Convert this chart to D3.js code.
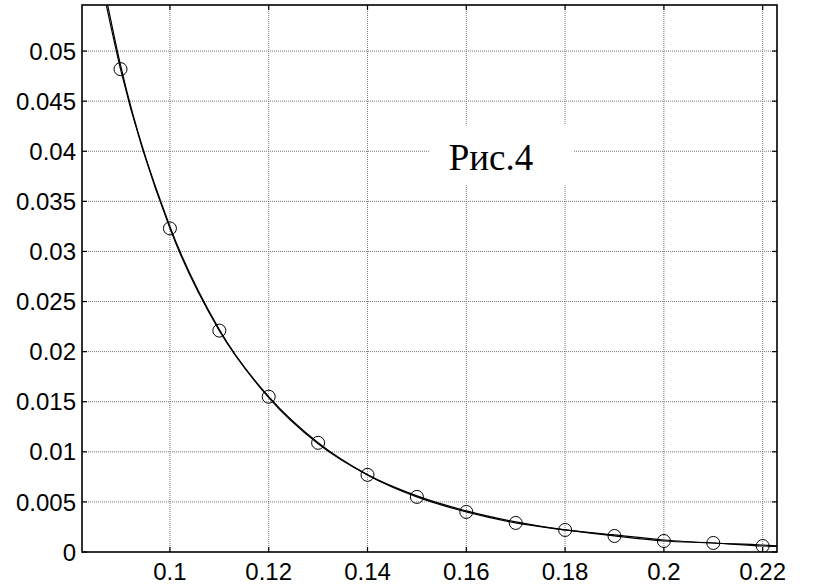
<!DOCTYPE html>
<html>
<head>
<meta charset="utf-8">
<script src="https://cdn.jsdelivr.net/npm/d3@7"></script>
<style>
  body { margin: 0; background: #fff; }
  svg { display: block; }
  .tick-label { font-family: "Liberation Sans", Arial, sans-serif; font-size: 24px; fill: #000; }
</style>
</head>
<body>
<div id="chart"></div>
<script>
"use strict";

//********************************* DATA *********************************
var xTicks = [0.1, 0.12, 0.14, 0.16, 0.18, 0.2, 0.22];
var xTickLabels = ["0.1", "0.12", "0.14", "0.16", "0.18", "0.2", "0.22"];
var yTicks = [0, 0.005, 0.01, 0.015, 0.02, 0.025, 0.03, 0.035, 0.04, 0.045, 0.05];
var yTickLabels = ["0", "0.005", "0.01", "0.015", "0.02", "0.025", "0.03", "0.035", "0.04", "0.045", "0.05"];

// markers (circles)
var markerX = [0.09, 0.10, 0.11, 0.12, 0.13, 0.14, 0.15, 0.16, 0.17, 0.18, 0.19, 0.20, 0.21, 0.22];
var markerY = [0.0482, 0.0323, 0.0221, 0.0155, 0.0109, 0.0077, 0.0055, 0.0040, 0.0029, 0.0022, 0.0016, 0.0011, 0.0009, 0.0006];

// two almost overlapping curves
var curveX  = [0.086, 0.09, 0.10, 0.11, 0.12, 0.13, 0.14, 0.15, 0.16, 0.17, 0.18, 0.19, 0.20, 0.21, 0.22, 0.223];
var curveA  = [0.0572, 0.0482, 0.0323, 0.0221, 0.0155, 0.0109, 0.0077, 0.0055, 0.0040, 0.0029, 0.0022, 0.0016, 0.0011, 0.0009, 0.0006, 0.00055];
var curveB  = [0.0580, 0.0486, 0.0325, 0.0222, 0.0154, 0.0108, 0.0077, 0.0056, 0.0041, 0.0030, 0.0022, 0.0017, 0.0012, 0.0009, 0.0007, 0.0006];

var labelText = "Рис.4";

//********************************* LAYOUT *********************************
var width = 813, height = 588;
var plotLeft = 82, plotRight = 777, plotTop = 5, plotBottom = 552;

var svg = d3.select("#chart").append("svg")
    .attr("width", width)
    .attr("height", height);

var x = d3.scaleLinear().domain([0.0822, 0.2229]).range([plotLeft, plotRight]);
var y = d3.scaleLinear().domain([0, 0.0546]).range([plotBottom, plotTop]);

svg.append("defs").append("clipPath").attr("id", "plotClip")
    .append("rect")
    .attr("x", plotLeft).attr("y", plotTop)
    .attr("width", plotRight - plotLeft).attr("height", plotBottom - plotTop);

//grid lines (dotted grey)
var grid = svg.append("g").attr("class", "grid");
grid.selectAll("line.vx")
    .data(xTicks)
    .enter()
        .append("line")
        .attr("x1", function(d){ return x(d); })
        .attr("x2", function(d){ return x(d); })
        .attr("y1", plotTop).attr("y2", plotBottom)
        .attr("stroke", "#777")
        .attr("stroke-width", 1)
        .attr("stroke-dasharray", "1,1");
grid.selectAll("line.hy")
    .data(yTicks.slice(1))
    .enter()
        .append("line")
        .attr("x1", plotLeft).attr("x2", plotRight)
        .attr("y1", function(d){ return y(d); })
        .attr("y2", function(d){ return y(d); })
        .attr("stroke", "#777")
        .attr("stroke-width", 1)
        .attr("stroke-dasharray", "1,1");

//label box hides the grid behind the text
var lx = x(0.1650), ly = y(0.0381);
svg.append("rect")
    .attr("x", lx - 61).attr("y", ly - 45)
    .attr("width", 143).attr("height", 60)
    .attr("fill", "#fff");
svg.append("text")
    .attr("x", lx).attr("y", ly)
    .attr("text-anchor", "middle")
    .attr("font-family", "'Liberation Serif', 'Times New Roman', serif")
    .attr("font-size", 37)
    .attr("fill", "#000")
    .text(labelText);

//curves
var plot = svg.append("g").attr("clip-path", "url(#plotClip)");
function lineFor(ys){
    return d3.line()
        .x(function(d, i){ return x(curveX[i]); })
        .y(function(d){ return y(d); })
        .curve(d3.curveMonotoneX)(ys);
}
[curveA, curveB].forEach(function(ys){
    plot.append("path")
        .attr("d", lineFor(ys))
        .attr("fill", "none")
        .attr("stroke", "#000")
        .attr("stroke-width", 1.2);
});

//markers
plot.selectAll("circle")
    .data(markerX)
    .enter()
        .append("circle")
        .attr("cx", function(d){ return x(d); })
        .attr("cy", function(d, i){ return y(markerY[i]); })
        .attr("r", 6.5)
        .attr("fill", "none")
        .attr("stroke", "#000")
        .attr("stroke-width", 1);

//axes box
svg.append("rect")
    .attr("x", plotLeft).attr("y", plotTop)
    .attr("width", plotRight - plotLeft).attr("height", plotBottom - plotTop)
    .attr("fill", "none")
    .attr("stroke", "#000")
    .attr("stroke-width", 1.6);

//inward ticks
var tickLen = 5;
var ticks = svg.append("g").attr("stroke", "#000").attr("stroke-width", 1.2);
yTicks.forEach(function(d){
    ticks.append("line").attr("x1", plotLeft).attr("x2", plotLeft + tickLen).attr("y1", y(d)).attr("y2", y(d));
    ticks.append("line").attr("x1", plotRight).attr("x2", plotRight - tickLen).attr("y1", y(d)).attr("y2", y(d));
});
xTicks.forEach(function(d){
    ticks.append("line").attr("x1", x(d)).attr("x2", x(d)).attr("y1", plotBottom).attr("y2", plotBottom - tickLen);
    ticks.append("line").attr("x1", x(d)).attr("x2", x(d)).attr("y1", plotTop).attr("y2", plotTop + tickLen);
});

//tick labels
svg.selectAll("text.ylab")
    .data(yTicks)
    .enter()
        .append("text")
        .attr("class", "tick-label ylab")
        .attr("x", plotLeft - 6)
        .attr("y", function(d){ return y(d); })
        .attr("dy", "0.36em")
        .attr("text-anchor", "end")
        .text(function(d, i){ return yTickLabels[i]; });

svg.selectAll("text.xlab")
    .data(xTicks)
    .enter()
        .append("text")
        .attr("class", "tick-label xlab")
        .attr("x", function(d){ return x(d); })
        .attr("y", 580)
        .attr("text-anchor", "middle")
        .text(function(d, i){ return xTickLabels[i]; });
</script>
</body>
</html>
